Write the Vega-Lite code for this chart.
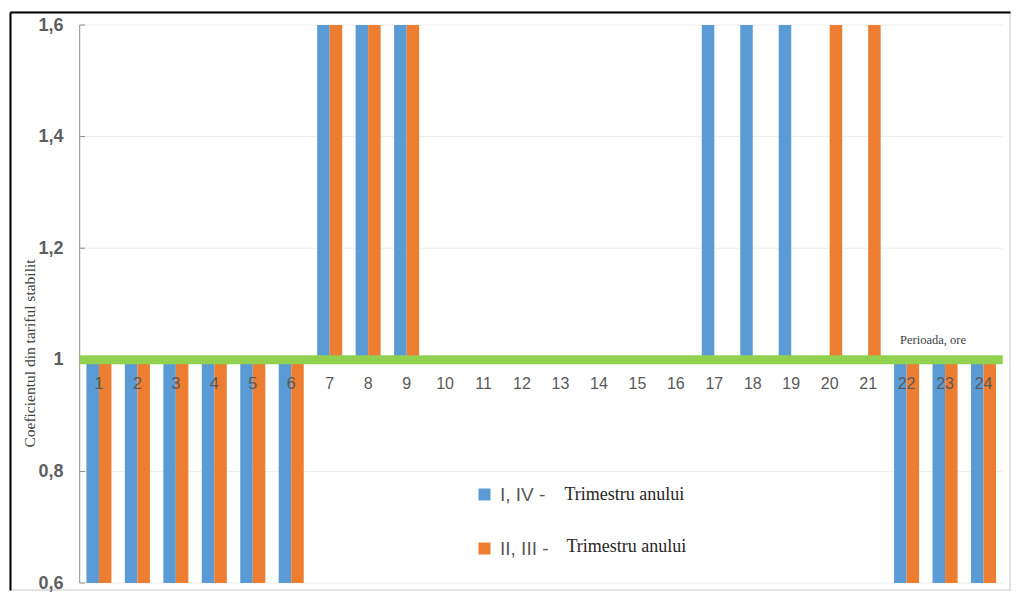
{
  "$schema": "https://vega.github.io/schema/vega-lite/v6.json",
  "width": 1000,
  "height": 578,
  "autosize": {"type": "none"},
  "padding": {"left": 10, "top": 12, "right": 8, "bottom": 7},
  "background": "white",
  "config": {"view": {"stroke": "#d9d9d9", "strokeWidth": 1.5}},
  "datasets": {
    "bars": [
      {"hour": 1, "series": "I, IV -", "value": 0.6}, {"hour": 1, "series": "II, III -", "value": 0.6},
      {"hour": 2, "series": "I, IV -", "value": 0.6}, {"hour": 2, "series": "II, III -", "value": 0.6},
      {"hour": 3, "series": "I, IV -", "value": 0.6}, {"hour": 3, "series": "II, III -", "value": 0.6},
      {"hour": 4, "series": "I, IV -", "value": 0.6}, {"hour": 4, "series": "II, III -", "value": 0.6},
      {"hour": 5, "series": "I, IV -", "value": 0.6}, {"hour": 5, "series": "II, III -", "value": 0.6},
      {"hour": 6, "series": "I, IV -", "value": 0.6}, {"hour": 6, "series": "II, III -", "value": 0.6},
      {"hour": 7, "series": "I, IV -", "value": 1.6}, {"hour": 7, "series": "II, III -", "value": 1.6},
      {"hour": 8, "series": "I, IV -", "value": 1.6}, {"hour": 8, "series": "II, III -", "value": 1.6},
      {"hour": 9, "series": "I, IV -", "value": 1.6}, {"hour": 9, "series": "II, III -", "value": 1.6},
      {"hour": 10, "series": "I, IV -", "value": 1}, {"hour": 10, "series": "II, III -", "value": 1},
      {"hour": 11, "series": "I, IV -", "value": 1}, {"hour": 11, "series": "II, III -", "value": 1},
      {"hour": 12, "series": "I, IV -", "value": 1}, {"hour": 12, "series": "II, III -", "value": 1},
      {"hour": 13, "series": "I, IV -", "value": 1}, {"hour": 13, "series": "II, III -", "value": 1},
      {"hour": 14, "series": "I, IV -", "value": 1}, {"hour": 14, "series": "II, III -", "value": 1},
      {"hour": 15, "series": "I, IV -", "value": 1}, {"hour": 15, "series": "II, III -", "value": 1},
      {"hour": 16, "series": "I, IV -", "value": 1}, {"hour": 16, "series": "II, III -", "value": 1},
      {"hour": 17, "series": "I, IV -", "value": 1.6}, {"hour": 17, "series": "II, III -", "value": 1},
      {"hour": 18, "series": "I, IV -", "value": 1.6}, {"hour": 18, "series": "II, III -", "value": 1},
      {"hour": 19, "series": "I, IV -", "value": 1.6}, {"hour": 19, "series": "II, III -", "value": 1},
      {"hour": 20, "series": "I, IV -", "value": 1}, {"hour": 20, "series": "II, III -", "value": 1.6},
      {"hour": 21, "series": "I, IV -", "value": 1}, {"hour": 21, "series": "II, III -", "value": 1.6},
      {"hour": 22, "series": "I, IV -", "value": 0.6}, {"hour": 22, "series": "II, III -", "value": 0.6},
      {"hour": 23, "series": "I, IV -", "value": 0.6}, {"hour": 23, "series": "II, III -", "value": 0.6},
      {"hour": 24, "series": "I, IV -", "value": 0.6}, {"hour": 24, "series": "II, III -", "value": 0.6}
    ],
    "grid": [{"v": 0.6}, {"v": 0.8}, {"v": 1.2}, {"v": 1.4}, {"v": 1.6}],
    "ticks": [{"v": 0.6}, {"v": 0.8}, {"v": 1}, {"v": 1.2}, {"v": 1.4}, {"v": 1.6}],
    "one": [{"t": ""}]
  },
  "layer": [
    {
      "data": {"name": "grid"},
      "mark": {"type": "rule", "color": "#eeeeee", "strokeWidth": 1},
      "encoding": {
        "x": {"datum": 1, "type": "ordinal", "bandPosition": 0},
        "x2": {"datum": 24, "bandPosition": 1},
        "y": {"field": "v", "type": "quantitative"}
      }
    },
    {
      "data": {"name": "bars"},
      "mark": {"type": "bar"},
      "encoding": {
        "x": {
          "field": "hour", "type": "ordinal",
          "scale": {"paddingInner": 0, "paddingOuter": 1.02, "align": 0.906},
          "axis": {"orient": "top", "labels": false, "ticks": false, "domainColor": "#000000", "domainWidth": 2, "title": null, "grid": false}
        },
        "xOffset": {"field": "series", "type": "nominal", "sort": ["I, IV -", "II, III -"], "scale": {"paddingInner": 0, "paddingOuter": 0.536}},
        "y": {
          "field": "value", "type": "quantitative",
          "scale": {"domain": [0.5875, 1.6233], "nice": false, "zero": false},
          "axis": {
            "orient": "left",
            "values": [0.6, 0.8, 1, 1.2, 1.4, 1.6],
            "labelExpr": "datum.value == 1 ? '1' : replace(format(datum.value, '.1f'), '.', ',')",
            "ticks": false, "grid": false,
            "domainColor": "#000000", "domainWidth": 2,
            "labelPadding": -53, "labelFlush": false, "labelOverlap": false,
            "labelFont": "Liberation Sans", "labelFontSize": 18, "labelFontWeight": "bold", "labelColor": "#5f5f5f",
            "title": "Coeficientul din tariful stabilit",
            "titleFont": "Liberation Serif", "titleFontSize": 15.5, "titleFontWeight": "normal", "titleColor": "#404040",
            "titleX": 19, "titleY": 341, "titleBaseline": "middle", "titleAlign": "center", "titleAngle": -90
          }
        },
        "y2": {"datum": 1},
        "color": {
          "field": "series", "type": "nominal",
          "scale": {"domain": ["I, IV -", "II, III -"], "range": ["#5b9bd5", "#ed7d31"]},
          "legend": {
            "orient": "none", "legendX": 465, "legendY": 473, "title": null, "direction": "vertical",
            "symbolType": "square", "symbolSize": 144, "symbolStrokeWidth": 0, "symbolOpacity": 1,
            "labelFont": "Liberation Sans", "labelFontSize": 19, "labelColor": "#595959",
            "rowPadding": 34, "labelOffset": 6, "padding": 0
          }
        }
      }
    },
    {
      "data": {"name": "one"},
      "mark": {"type": "rule", "color": "#8c8c8c", "strokeWidth": 1},
      "encoding": {
        "x": {"datum": 1, "type": "ordinal", "bandPosition": 0},
        "y": {"datum": 0.6, "type": "quantitative"},
        "y2": {"datum": 1.6}
      }
    },
    {
      "data": {"name": "ticks"},
      "mark": {"type": "rule", "color": "#8c8c8c", "strokeWidth": 1},
      "encoding": {
        "x": {"datum": 1, "type": "ordinal", "bandPosition": 0},
        "x2": {"datum": 1, "bandPosition": 0.14},
        "y": {"field": "v", "type": "quantitative"}
      }
    },
    {
      "data": {"name": "one"},
      "mark": {"type": "rule", "color": "#92d050", "strokeWidth": 9},
      "encoding": {
        "x": {"datum": 1, "type": "ordinal", "bandPosition": 0},
        "x2": {"datum": 24, "bandPosition": 1},
        "y": {"datum": 1, "type": "quantitative"}
      }
    },
    {
      "data": {"name": "bars"},
      "transform": [{"filter": "datum.series == 'I, IV -'"}],
      "mark": {"type": "text", "font": "Liberation Sans", "fontSize": 16, "color": "#595959", "dy": 24, "align": "center", "baseline": "middle"},
      "encoding": {
        "x": {"field": "hour", "type": "ordinal"},
        "y": {"datum": 1, "type": "quantitative"},
        "text": {"field": "hour", "type": "ordinal"}
      }
    },
    {
      "data": {"name": "one"},
      "mark": {"type": "text", "text": "Perioada, ore", "font": "Liberation Serif", "fontSize": 12.5, "color": "#404040", "dx": -12, "dy": -20, "align": "center", "baseline": "middle"},
      "encoding": {
        "x": {"datum": 23, "type": "ordinal"},
        "y": {"datum": 1, "type": "quantitative"}
      }
    },
    {
      "data": {"name": "one"},
      "mark": {"type": "text", "text": "Trimestru anului", "font": "Liberation Serif", "fontSize": 18, "color": "#262626", "dx": 4, "dy": 24, "align": "left", "baseline": "middle"},
      "encoding": {
        "x": {"datum": 13, "type": "ordinal"},
        "y": {"datum": 0.8, "type": "quantitative"}
      }
    },
    {
      "data": {"name": "one"},
      "mark": {"type": "text", "text": "Trimestru anului", "font": "Liberation Serif", "fontSize": 18, "color": "#262626", "dx": 6, "dy": 76, "align": "left", "baseline": "middle"},
      "encoding": {
        "x": {"datum": 13, "type": "ordinal"},
        "y": {"datum": 0.8, "type": "quantitative"}
      }
    }
  ]
}
